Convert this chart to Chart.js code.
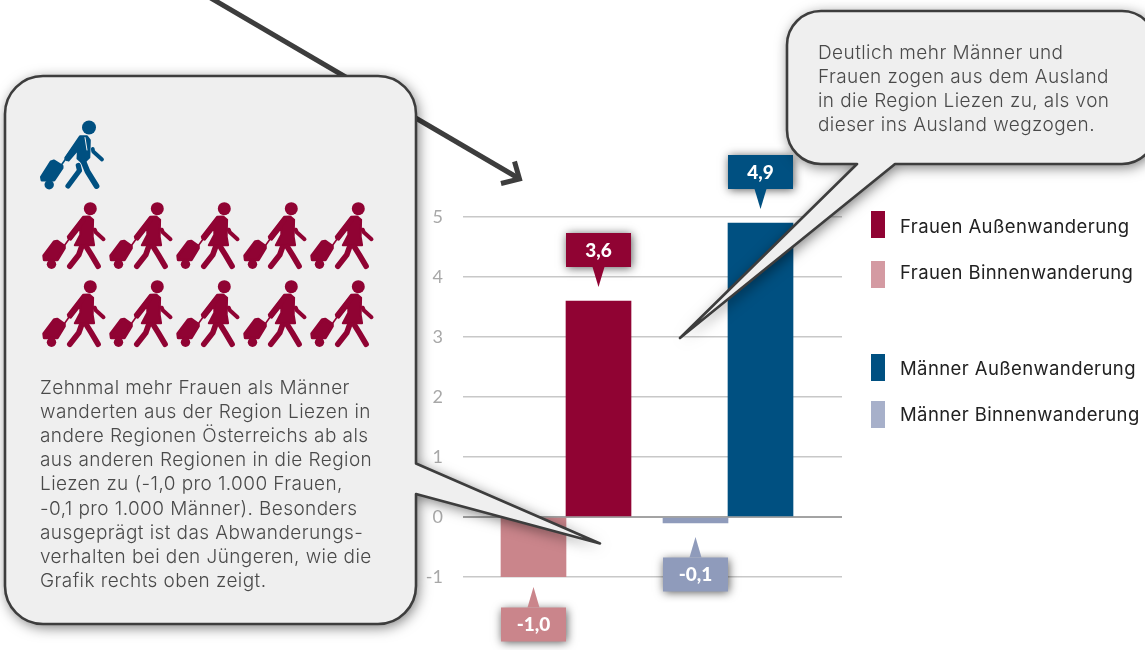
<!DOCTYPE html>
<html lang="de"><head><meta charset="utf-8">
<style>html,body{margin:0;padding:0;background:#fff}canvas{display:block}</style>
<script src="https://cdn.jsdelivr.net/npm/chart.js@4"></script>
</head><body><canvas id="c" width="1145" height="650"></canvas>
<script>
const categories = ['Frauen', 'Männer'];
const binnenValues = [-1.0, -0.1];
const aussenValues = [3.6, 4.9];
const yTicks = [-1, 0, 1, 2, 3, 4, 5];
const legendLabels = ['Frauen Außenwanderung', 'Frauen Binnenwanderung', 'Männer Außenwanderung', 'Männer Binnenwanderung'];
const leftNote = ['Zehnmal mehr Frauen als Männer','wanderten aus der Region Liezen in','andere Regionen Österreichs ab als','aus anderen Regionen in die Region','Liezen zu (-1,0 pro 1.000 Frauen,','-0,1 pro 1.000 Männer). Besonders','ausgeprägt ist das Abwanderungs-','verhalten bei den Jüngeren, wie die','Grafik rechts oben zeigt.'];
const rightNote = ['Deutlich mehr Männer und','Frauen zogen aus dem Ausland','in die Region Liezen zu, als von','dieser ins Ausland wegzogen.'];

const CRIMSON='#900333', BLUE='#005081', PINK='#ca858b', PERI='#8f9bbb';
const FONT='Inter', NUMFONT='Lato';
const fmt = v => v.toFixed(1).replace('.', ',');

function bubble(ctx, x, y, r, b, rad, tail){
  ctx.beginPath();
  ctx.moveTo(x+rad,y);
  ctx.lineTo(r-rad,y); ctx.arcTo(r,y,r,y+rad,rad);
  if(tail.edge==='right'){ ctx.lineTo(r,tail.a); ctx.lineTo(tail.tx,tail.ty); ctx.lineTo(r,tail.b); }
  ctx.lineTo(r,b-rad); ctx.arcTo(r,b,r-rad,b,rad);
  if(tail.edge==='bottom'){ ctx.lineTo(tail.b,b); ctx.lineTo(tail.tx,tail.ty); ctx.lineTo(tail.a,b); }
  ctx.lineTo(x+rad,b); ctx.arcTo(x,b,x,b-rad,rad);
  ctx.lineTo(x,y+rad); ctx.arcTo(x,y,x+rad,y,rad);
  ctx.closePath();
  ctx.save();
  ctx.shadowColor='rgba(0,0,0,0.55)'; ctx.shadowBlur=14; ctx.shadowOffsetX=2; ctx.shadowOffsetY=3;
  ctx.fillStyle='#efefef'; ctx.fill();
  ctx.restore();
  ctx.lineWidth=2.6; ctx.strokeStyle='#3d3d3d'; ctx.lineJoin='round'; ctx.stroke();
}
function limb(ctx, pts, w){
  ctx.lineWidth=w; ctx.lineCap='round'; ctx.lineJoin='round';
  ctx.beginPath(); pts.forEach((p,i)=> i?ctx.lineTo(p[0],p[1]):ctx.moveTo(p[0],p[1])); ctx.stroke();
}
function poly(ctx, pts, sw){
  ctx.beginPath(); pts.forEach((p,i)=> i?ctx.lineTo(p[0],p[1]):ctx.moveTo(p[0],p[1])); ctx.closePath();
  ctx.lineJoin='round'; ctx.lineWidth=sw||1; ctx.fill(); ctx.stroke();
}
function disc(ctx,x,y,r){ctx.beginPath();ctx.arc(x,y,r,0,Math.PI*2);ctx.fill();}
function woman(ctx, x, y){
  ctx.save(); ctx.translate(x,y); ctx.fillStyle=ctx.strokeStyle=CRIMSON;
  disc(ctx,0,0,6.5);
  poly(ctx,[[-7,8],[-1,7.7],[2.8,11],[2.4,28],[3.8,36.5],[-15.5,36.5],[-10,26],[-10,19],[-19.5,31],[-22.5,28]],2);
  limb(ctx,[[-7,11],[-20.5,29]],5);
  limb(ctx,[[4.5,21],[5.5,23.5],[13.2,30.5]],4);
  limb(ctx,[[-9,39],[-11.5,46],[-20.5,57.5]],5.6);
  limb(ctx,[[-4,38],[1,46],[7.8,57.5]],5.6);
  limb(ctx,[[-26,37],[-21,30]],1.6);
  poly(ctx,[[-46.5,47],[-36,33],[-33,32.5],[-26,37.5],[-26,39.5],[-33,51],[-46,51]],3);
  disc(ctx,-38.8,55.5,4.7);
  ctx.restore();
}
function man(ctx, x, y){
  ctx.save(); ctx.translate(x,y); ctx.fillStyle=ctx.strokeStyle=BLUE;
  disc(ctx,0,0,7);
  poly(ctx,[[-9,8.8],[-2,8.8],[0.8,12.7],[0.3,30],[-6,36],[-11.5,31],[-11,22],[-20.5,33],[-23.5,30]],2);
  limb(ctx,[[-8,12],[-22,31]],5);
  limb(ctx,[[3.8,21.5],[4.2,24],[13,32]],3.8);
  limb(ctx,[[-6,33],[-1.5,44],[7.5,58.5]],5.8);
  limb(ctx,[[-10.7,38],[-9.5,43],[-21,58.5]],5.2);
  ctx.strokeStyle='#efefef'; limb(ctx,[[-4,10],[-2,22.5]],1);
  ctx.strokeStyle=BLUE;
  limb(ctx,[[-28,38],[-23,31]],1.6);
  poly(ctx,[[-47.5,49.5],[-38,34.5],[-35,33.5],[-27,38.5],[-27,40.5],[-35,52.5],[-47,52.5]],3);
  disc(ctx,-39.8,57.3,4.7);
  ctx.restore();
}
const overlay = {
  id:'overlay',
  afterDraw(chart){
    const ctx=chart.ctx, ys=chart.scales.y;
    ctx.save();
    const tag=(meta,i,v,col)=>{
      const cx = chart.getDatasetMeta(meta).data[i].x, yv = ys.getPixelForValue(v), w=65, h=34;
      const up = v>0;
      const gap = (v===-1)?10:14;
      const tip = up? yv-gap : yv+gap;
      const near = up? tip-20 : tip+20.5;
      const top = up? near-h : near;
      ctx.save();
      ctx.shadowColor='rgba(0,0,0,0.65)'; ctx.shadowBlur=9; ctx.shadowOffsetX=1; ctx.shadowOffsetY=1;
      ctx.fillStyle=col; ctx.fillRect(cx-w/2,top,w,h);
      ctx.restore();
      ctx.fillStyle=col;
      ctx.beginPath(); ctx.moveTo(cx-6,near); ctx.lineTo(cx,tip); ctx.lineTo(cx+6,near); ctx.closePath(); ctx.fill();
      ctx.fillStyle='#fff'; ctx.font='900 19px '+NUMFONT; ctx.textAlign='center'; ctx.textBaseline='alphabetic';
      ctx.fillText(fmt(v),cx,top+h/2+6.5);
    };
    tag(0,0,binnenValues[0],PINK); tag(1,0,aussenValues[0],CRIMSON);
    tag(0,1,binnenValues[1],PERI); tag(1,1,aussenValues[1],BLUE);

    ctx.strokeStyle='#3d3d3d'; ctx.lineCap='butt'; ctx.lineJoin='miter'; ctx.lineWidth=5;
    ctx.beginPath(); ctx.moveTo(209,-3); ctx.lineTo(519,178.5); ctx.stroke();
    ctx.beginPath(); ctx.moveTo(514.5,161.5); ctx.lineTo(519.5,179); ctx.lineTo(501,183.5); ctx.stroke();

    bubble(ctx,5,76,416,624,38,{edge:'right',a:463.5,b:494,tx:600,ty:543.5});
    bubble(ctx,787,11,1156,164,34,{edge:'bottom',a:857,b:895,tx:680,ty:338});

    ctx.fillStyle='#4a4a4a'; ctx.font='300 19px '+FONT; ctx.textAlign='left'; ctx.textBaseline='alphabetic';
    ctx.letterSpacing='0.42px';
    leftNote.forEach((t,i)=>ctx.fillText(t,40,394+i*24.1));
    rightNote.forEach((t,i)=>ctx.fillText(t,818,59+i*24));
    ctx.letterSpacing='0px';

    man(ctx,89,127.5);
    for(const dy of [208.7,286.7]) for(let k=0;k<5;k++) woman(ctx,90.3+k*67,dy);

    const lc=['#900333','#d49aa2','#005081','#a7b0ca'], ly=[211,261,354,401], lb=[233,279,375,421];
    ctx.letterSpacing='0.4px';
    legendLabels.forEach((t,i)=>{
      ctx.fillStyle=lc[i]; ctx.fillRect(871,ly[i],14,27);
      ctx.fillStyle='#222'; ctx.font='400 18.5px '+FONT; ctx.fillText(t,900,lb[i]);
    });
    ctx.letterSpacing='0px';
    ctx.restore();
  }
};
new Chart(document.getElementById('c'),{
  type:'bar',
  data:{datasets:[
    {label:'Binnenwanderung',data:binnenValues.map((y,i)=>({x:i,y,c:categories[i]})),backgroundColor:[PINK,PERI],barThickness:65},
    {label:'Außenwanderung',data:aussenValues.map((y,i)=>({x:i,y,c:categories[i]})),backgroundColor:[CRIMSON,BLUE],barThickness:65}
  ]},
  options:{
    responsive:false,animation:false,devicePixelRatio:1,
    layout:{padding:{left:0,top:217,right:303,bottom:73}},
    plugins:{legend:{display:false},tooltip:{enabled:false}},
    scales:{
      x:{type:'linear',display:false,offset:false,min:-103/162,max:1+114/162},
      y:{min:-1,max:5,
        afterFit(s){s.width=463;},
        afterBuildTicks(s){s.ticks=yTicks.map(value=>({value}));},
        border:{display:false},
        grid:{drawTicks:false,tickLength:0,color:c=>c.tick&&c.tick.value===0?'#a3a3a3':'#c8c8c8',lineWidth:c=>c.tick&&c.tick.value===0?2:1.5},
        ticks:{padding:20,color:'#a8a8a8',font:{family:NUMFONT,size:18}}
      }
    }
  },
  plugins:[overlay]
});
</script></body></html>
